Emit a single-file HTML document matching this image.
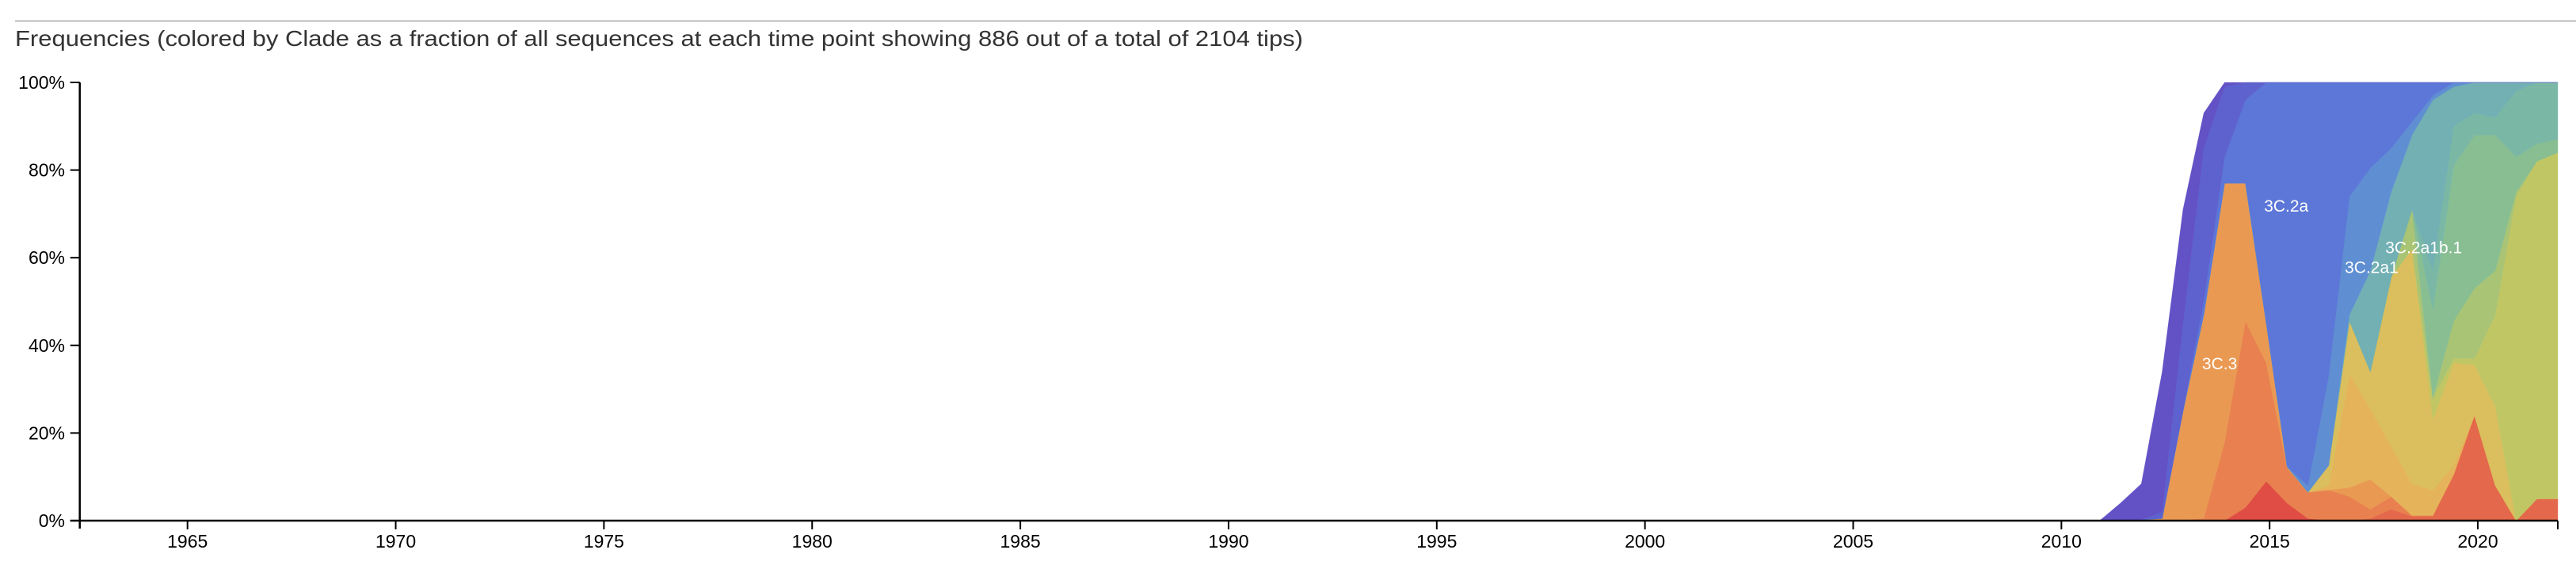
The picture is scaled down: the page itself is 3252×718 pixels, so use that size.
<!DOCTYPE html>
<html><head><meta charset="utf-8"><style>
html,body{margin:0;padding:0;background:#fff;}
svg{display:block;font-family:"Liberation Sans",sans-serif;}
</style></head><body>
<svg id="chart" width="3252" height="718" viewBox="0 0 3252 718">
<line x1="19" y1="26.5" x2="3252" y2="26.5" stroke="#bbb" stroke-width="2"/>
<text x="19" y="58" font-size="28" fill="#333" textLength="1626" lengthAdjust="spacingAndGlyphs">Frequencies (colored by Clade as a fraction of all sequences at each time point showing 886 out of a total of 2104 tips)</text>
<g id="streams"></g>
<g id="labels"></g>
<g id="axes"></g>
</svg>
<script>
// time points (years)
const times = [2010.92,2011.42,2011.92,2012.42,2012.92,2013.42,2013.92,2014.42,2014.92,2015.42,2015.92,2016.42,2016.92,2017.42,2017.92,2018.42,2018.92,2019.42,2019.92,2020.42,2020.92,2021.42,2021.92];
// per-clade frequencies (%) bottom -> top
const fRed      = [0,0,0,0,0,0,0,3,9,4,0.5,0,0,0,0,0,0,0,0,0,0,0,0];
const fRedOr    = [0,0,0,0,0,0,0,0,0,0,0,0,0,0.5,2.6,1,1,10.5,24,8,0,5,5];
const fOrange   = [0,0,0.2,0.2,0.2,0.5,18,42.5,27,8,6,7,5.5,2.1,2.9,0.2,0.2,0,0,0,0,0,0];
const f3C3      = [0,0,0,0.3,24.8,46.5,59,31.5,9,0.3,0,0,2.1,6.8,0,0,0,0,0,0,0,0,0];
const fYelOr    = [0,0,0,0,0,0,0,0,0,0,0,1,25.8,16.1,11.5,7.2,5.8,2.1,0,0,0,0,0];
const fYellow   = [0,0,0,0,0,0,0,0,0,0,0,4.6,12.1,8.5,38.5,53.6,16,23.4,11.5,18,0,0,0];
const fLime     = [0,0,0,0,0,0,0,0,0,0,0,0,0,0,0,0,5,1,1.5,21,74,77,79];
const fGreenYel = [0,0,0,0,0,0,0,0,0,0,0,0,0,0,0,9,0,8.5,16,10,1,0,0];
const fGreen    = [0,0,0,0,0,0,0,0,0,0,0,0,0,0,0,0,20,35.5,35,31,8,4,3];
const fTealGr   = [0,0,0,0,0,0,0,0,0,0,0,0,0,0,0,0,9,9,5,4,15,14,13];
const fTeal     = [0,0,0,0,0,0,0,0,0,0,0,0,1.5,23,19.5,17,39,9,7,8,2,0,0];
const f3C2a1    = [0,0,0,0,0,0,0,0,0,0,1.5,20.4,27,23.5,10,3,1,1,0,0,0,0,0];
const f3C2a     = [0,0,0,0,0,3,6,19,55,87.7,92,67,26,19.5,15,9,3,0,0,0,0,0,0];
const fIndigo   = [0,0,0,1.5,20,35,16,4,0,0,0,0,0,0,0,0,0,0,0,0,0,0,0];
const fPurple   = [0,4,8.2,32,26,8,1,0,0,0,0,0,0,0,0,0,0,0,0,0,0,0,0];
const seriesNames = ["red","red-orange","orange","3C.3","yellow-orange","yellow","lime","green-yellow","green","teal-green","teal","3C.2a1","3C.2a","indigo","purple"];
const series = [fRed,fRedOr,fOrange,f3C3,fYelOr,fYellow,fLime,fGreenYel,fGreen,fTealGr,fTeal,f3C2a1,f3C2a,fIndigo,fPurple];
const colors = ["#E04D45","#E4684B","#E8814F","#EA9953","#E5B45A","#DBBE5D","#C1C665","#A9C474","#88BE92","#7AB8A5","#72B0B3","#5F8ED2","#5C77D7","#5D62CE","#6351C6"];
const xTicks = [1965,1970,1975,1980,1985,1990,1995,2000,2005,2010,2015,2020];
const yTicks = [0,20,40,60,80,100];
const cladeLabels = ["3C.2a","3C.3","3C.2a1","3C.2a1b.1"];
const cladeLabelYear = [2015.4,2013.8,2017.45,2018.7];
const cladeLabelPct = [70.5,34.5,56.5,61];

const NS="http://www.w3.org/2000/svg";
const X0=100.7, X1=3229, Y0=657, Y1=104;
function xs(yr){return 236.7+(yr-1965)*52.57;}
function ys(p){return Y0-(p/100)*(Y0-Y1);}
function mk(tag,attrs,parent){const e=document.createElementNS(NS,tag);for(const k in attrs)e.setAttribute(k,attrs[k]);parent.appendChild(e);return e;}

const gS=document.getElementById('streams');
let base=times.map(()=>0);
series.forEach((s,si)=>{
  const top=base.map((b,i)=>b+s[i]);
  let d="M"+times.map((t,i)=>xs(t).toFixed(1)+","+ys(top[i]).toFixed(1)).join("L");
  for(let i=times.length-1;i>=0;i--) d+="L"+xs(times[i]).toFixed(1)+","+ys(base[i]).toFixed(1);
  d+="Z";
  const p=mk('path',{d:d,fill:colors[si],stroke:colors[si],'stroke-width':0.6,'stroke-opacity':0.6},gS);
  
  
  base=top;
});

const gL=document.getElementById('labels');
cladeLabels.forEach((lb,i)=>{
  const t=mk('text',{x:xs(cladeLabelYear[i]),y:ys(cladeLabelPct[i]),'font-size':21,fill:'#fff','text-anchor':'middle'},gL);
  t.textContent=lb;
  
  
});

const gA=document.getElementById('axes');
const ya=mk('line',{x1:X0,y1:Y1,x2:X0,y2:Y0+10,stroke:'#000','stroke-width':2.5},gA);


const xa=mk('line',{x1:X0-12,y1:Y0,x2:X1,y2:Y0,stroke:'#000','stroke-width':2.5},gA);


mk('line',{x1:X0,y1:Y1,x2:X0-12,y2:Y1,stroke:'#000','stroke-width':2},gA);
mk('line',{x1:X1,y1:Y0,x2:X1,y2:Y0+11,stroke:'#000','stroke-width':2},gA);
yTicks.forEach(v=>{
  mk('line',{x1:X0-12,y1:ys(v),x2:X0,y2:ys(v),stroke:'#000','stroke-width':2},gA);
  const t=mk('text',{x:82,y:ys(v)+8,'font-size':23,fill:'#000','text-anchor':'end'},gA);
  t.textContent=v+"%";
  
  
});
xTicks.forEach(v=>{
  mk('line',{x1:xs(v),y1:Y0,x2:xs(v),y2:Y0+11,stroke:'#000','stroke-width':2},gA);
  const t=mk('text',{x:xs(v),y:691,'font-size':23,fill:'#000','text-anchor':'middle'},gA);
  t.textContent=v;
  
  
});
</script>
</body></html>
